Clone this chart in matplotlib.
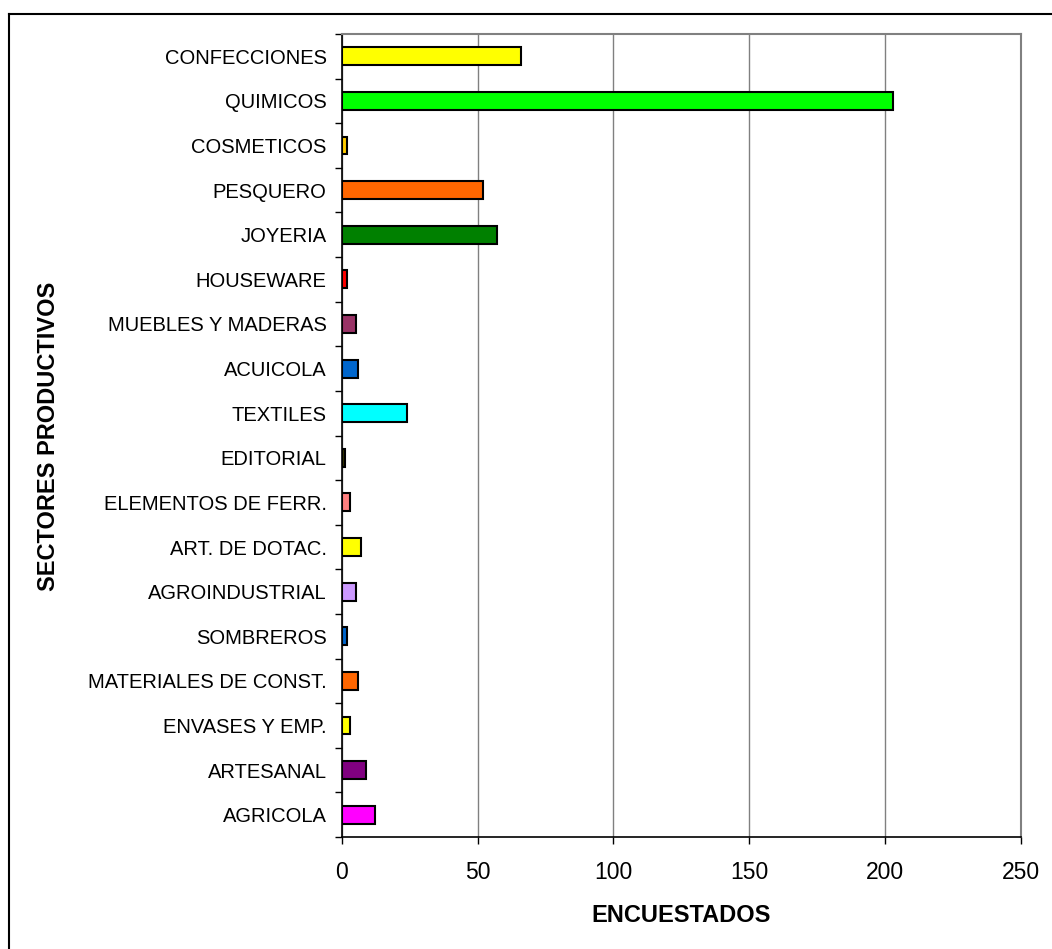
import matplotlib
matplotlib.use("Agg")
import matplotlib.pyplot as plt
from matplotlib.lines import Line2D
import numpy as np

plt.rcParams['font.family'] = ['Liberation Sans', 'DejaVu Sans']

# Sectors listed top to bottom
sectors = [
    "CONFECCIONES", "QUIMICOS", "COSMETICOS", "PESQUERO", "JOYERIA",
    "HOUSEWARE", "MUEBLES Y MADERAS", "ACUICOLA", "TEXTILES", "EDITORIAL",
    "ELEMENTOS DE FERR.", "ART. DE DOTAC.", "AGROINDUSTRIAL", "SOMBREROS",
    "MATERIALES DE CONST.", "ENVASES Y EMP.", "ARTESANAL", "AGRICOLA",
]
encuestados = [66, 203, 2, 52, 57, 2, 5, 6, 24, 1, 3, 7, 5, 2, 6, 3, 9, 12]
bar_colors = [
    "#FFFF00", "#00FF00", "#FFCC00", "#FF6600", "#008000",
    "#FF0000", "#993366", "#0066CC", "#00FFFF", "#333300",
    "#FF8080", "#FFFF00", "#CC99FF", "#0066CC",
    "#FF6600", "#FFFF00", "#800080", "#FF00FF",
]
x_ticks = [0, 50, 100, 150, 200, 250]

W, H = 1052, 949
fig = plt.figure(figsize=(W / 100, H / 100), dpi=100)
ax = fig.add_axes([342 / W, 1 - 837 / H, (1020.5 - 342) / W, (837 - 34) / H])

n = len(sectors)
y = np.arange(n)[::-1]
ax.barh(y, encuestados, height=0.4, color=bar_colors,
        edgecolor="black", linewidth=1.5, zorder=3)

ax.set_xlim(0, 250)
ax.set_ylim(-0.5, n - 0.5)
ax.set_xticks(x_ticks)
ax.set_xticklabels([str(t) for t in x_ticks], fontsize=16.5)
ax.set_yticks(y)
ax.set_yticklabels(sectors, fontsize=14.5)
ax.set_yticks(np.arange(n + 1) - 0.5, minor=True)
ax.tick_params(axis="y", which="major", length=0, pad=11)
ax.tick_params(axis="y", which="minor", length=5, width=1, direction="out")
ax.tick_params(axis="x", length=5, width=1, direction="out", pad=12)

# vertical grid lines
ax.xaxis.grid(True, color="#808080", linewidth=1, zorder=0)

for side in ("top", "right"):
    ax.spines[side].set_color("#808080")
    ax.spines[side].set_linewidth(1.5)
for side in ("left", "bottom"):
    ax.spines[side].set_color("black")
    ax.spines[side].set_linewidth(1.2)
ax.spines["top"].set_zorder(4)

# axis titles
fig.text(681 / W, 1 - 915 / H, "ENCUESTADOS", fontsize=17, fontweight="bold",
         ha="center", va="center")
fig.text(49 / W, 1 - 436 / H, "SECTORES PRODUCTIVOS", fontsize=17,
         fontweight="bold", rotation=90, ha="center", va="center")

# chart frame
fig.add_artist(Line2D([8.5 / W, 1.0], [1 - 13.5 / H, 1 - 13.5 / H],
                      color="black", linewidth=1.5, transform=fig.transFigure))
fig.add_artist(Line2D([8.5 / W, 8.5 / W], [0.0, 1 - 13.5 / H],
                      color="black", linewidth=1.5, transform=fig.transFigure))

fig.savefig("out.png", dpi=100)
